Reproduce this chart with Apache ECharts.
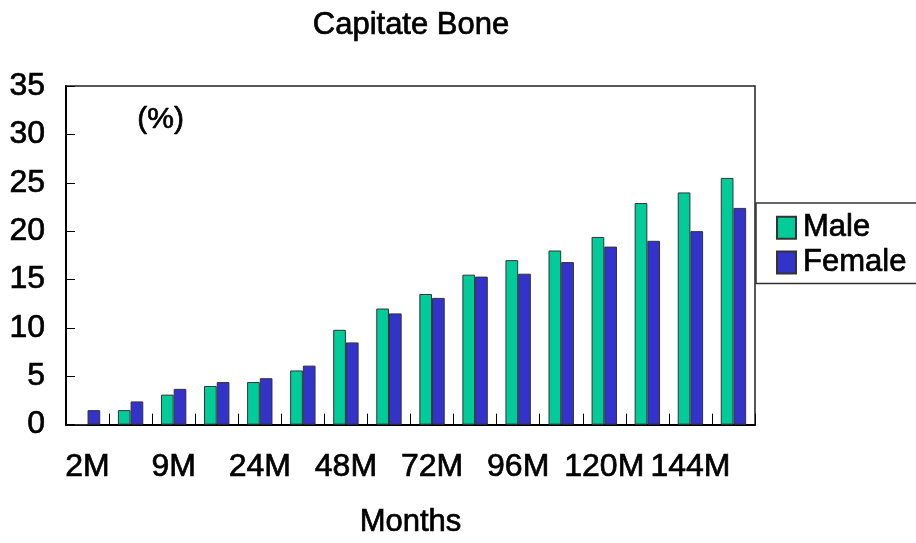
<!DOCTYPE html>
<html>
<head>
<meta charset="utf-8">
<script src="https://cdn.jsdelivr.net/npm/echarts@6/dist/echarts.min.js"></script>
<style>html,body{margin:0;padding:0;background:#fff;}#c{width:916px;height:543px;}</style>
</head>
<body>
<div id="c"></div>
<script>
var categories = ['2M','6M','9M','12M','24M','36M','48M','60M','72M','84M','96M','108M','120M','132M','144M','156M'];
var maleValues = [0, 1.5, 3.1, 4.0, 4.4, 5.6, 9.8, 12.0, 13.5, 15.5, 17.0, 18.0, 19.4, 22.9, 24.0, 25.5];
var femaleValues = [1.5, 2.4, 3.7, 4.4, 4.8, 6.1, 8.5, 11.5, 13.1, 15.3, 15.6, 16.8, 18.4, 19.0, 20.0, 22.4];
var yTicks = [0, 5, 10, 15, 20, 25, 30, 35];

var FONT = '"Liberation Sans", Arial, sans-serif';
var TB = {textBorderColor: '#000', textBorderWidth: 0.7};
var chart = echarts.init(document.getElementById('c'), null, {renderer: 'canvas'});
chart.setOption({
  animation: false,
  backgroundColor: '#fff',
  title: {
    text: 'Capitate Bone',
    left: 406, top: 5, textAlign: 'center',
    textStyle: Object.assign({fontFamily: FONT, fontSize: 31, fontWeight: 'normal', color: '#000'}, TB)
  },
  legend: {
    orient: 'vertical',
    left: 756, top: 203,
    padding: [9, 40, 5, 20],
    itemWidth: 19, itemHeight: 22, itemGap: 3,
    borderColor: '#333', borderWidth: 1.5,
    backgroundColor: '#fff',
    textStyle: Object.assign({fontFamily: FONT, fontSize: 31, color: '#000', padding: [0,0,0,2]}, TB),
    data: [{name: 'Male', icon: 'rect'}, {name: 'Female', icon: 'rect'}]
  },
  graphic: [{
    type: 'text', left: 137, top: 104,
    style: {text: '(%)', font: 'normal 30px ' + FONT, fill: '#000', stroke: '#000', lineWidth: 0.7}
  }],
  grid: {
    left: 66, top: 86, right: 161, bottom: 113,
    show: true, borderColor: '#222', borderWidth: 1.5, containLabel: false
  },
  xAxis: {
    type: 'category',
    data: categories,
    name: 'Months', nameLocation: 'middle', nameGap: 82,
    nameTextStyle: Object.assign({fontFamily: FONT, fontSize: 31, color: '#000'}, TB),
    axisLine: {lineStyle: {color: '#000', width: 2}},
    axisTick: {show: true, inside: true, length: 11, interval: 0, lineStyle: {color: '#000', width: 1}},
    axisLabel: Object.assign({interval: 1, hideOverlap: false, margin: 27, fontFamily: FONT, fontSize: 32, color: '#000'}, TB),
    splitLine: {show: false}
  },
  yAxis: {
    type: 'value', min: yTicks[0], max: yTicks[yTicks.length-1], interval: 5,
    axisLine: {show: true, lineStyle: {color: '#000', width: 2}},
    axisTick: {show: true, inside: true, length: 9, lineStyle: {color: '#000', width: 1}},
    axisLabel: Object.assign({margin: 21, fontFamily: FONT, fontSize: 32, color: '#000'}, TB),
    splitLine: {show: false}
  },
  series: [{
    name: 'Male', type: 'bar', data: maleValues,
    barWidth: 12.7, barGap: '0%',
    itemStyle: {color: '#00CC99', borderColor: '#333', borderWidth: 1}
  }, {
    name: 'Female', type: 'bar', data: femaleValues,
    barWidth: 12.7, barGap: '0%',
    itemStyle: {color: '#3333CC', borderColor: '#333', borderWidth: 1}
  }]
});
</script>
</body>
</html>
